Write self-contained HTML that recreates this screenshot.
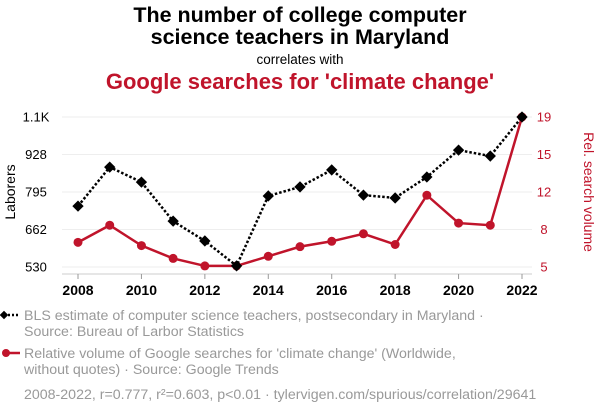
<!DOCTYPE html>
<html><head><meta charset="utf-8"><style>
body{margin:0;background:#fff;font-family:"Liberation Sans",sans-serif}
</style></head><body>
<svg width="600" height="414" xmlns="http://www.w3.org/2000/svg" font-family="Liberation Sans, sans-serif">
<text x="300" y="22" text-anchor="middle" font-size="21.5" font-weight="bold" fill="#000">The number of college computer</text>
<text x="300" y="44" text-anchor="middle" font-size="21.5" font-weight="bold" fill="#000">science teachers in Maryland</text>
<text x="300" y="64" text-anchor="middle" font-size="13.5" fill="#000">correlates with</text>
<text x="300" y="89" text-anchor="middle" font-size="22" font-weight="bold" fill="#c0142b">Google searches for 'climate change'</text>
<g id="grid"></g>
<g id="axes"></g>
<g id="marks"></g>
<text transform="translate(15,192) rotate(-90)" text-anchor="middle" font-size="14" fill="#000">Laborers</text>
<text transform="translate(584,192) rotate(90)" text-anchor="middle" font-size="14" fill="#c0142b">Rel. search volume</text>
<g>
<line x1="4" y1="315" x2="20" y2="315" stroke="#000" stroke-width="2.5" stroke-dasharray="2,2"/>
<rect x="1" y="312" width="6" height="6" transform="rotate(45 4 315)" fill="#000"/>
<text x="24" y="320" font-size="14.2" fill="#999">BLS estimate of computer science teachers, postsecondary in Maryland ·</text>
<text x="24" y="336" font-size="14.2" fill="#999">Source: Bureau of Larbor Statistics</text>
</g>
<g>
<line x1="4" y1="353" x2="20" y2="353" stroke="#c0142b" stroke-width="2.5"/>
<circle cx="6" cy="353" r="4" fill="#c0142b"/>
<text x="24" y="358" font-size="14.2" fill="#999">Relative volume of Google searches for 'climate change' (Worldwide,</text>
<text x="24" y="374" font-size="14.2" fill="#999">without quotes) · Source: Google Trends</text>
</g>
<text x="24" y="399" font-size="14.2" fill="#999">2008-2022, r=0.777, r²=0.603, p&lt;0.01 · tylervigen.com/spurious/correlation/29641</text>
</svg>
<script>
const years=[2008,2009,2010,2011,2012,2013,2014,2015,2016,2017,2018,2019,2020,2021,2022];
const laborers=[745,883,830,692,622,534,781,813,873,784,774,848,943,922,1060];
const searches=[7.3,8.9,7.0,5.8,5.1,5.1,6.0,6.9,7.4,8.1,7.1,11.7,9.1,8.9,19];
const leftTicks=[530,662.5,795,927.5,1060];
const leftLabels=["530","662","795","928","1.1K"];
const rightTicks=[5,8.5,12,15.5,19];
const rightLabels=["5","8","12","15","19"];
const xTicks=[2008,2010,2012,2014,2016,2018,2020,2022];
const NS="http://www.w3.org/2000/svg";
const x=v=>78+(v-2008)/14*444;
const yL=v=>267-(v-530)/530*150;
const yR=v=>267-(v-5)/14*150;
function mk(tag,attrs,parent,text){const e=document.createElementNS(NS,tag);for(const k in attrs)e.setAttribute(k,attrs[k]);if(text!==undefined)e.textContent=text;document.getElementById(parent).appendChild(e);return e;}
leftTicks.forEach((t,i)=>{
 const g=mk('line',{x1:62,x2:532,y1:yL(t),y2:yL(t),stroke:'#eee','stroke-width':1},'grid');
 
 
 const a=mk('text',{x:36,y:yL(t)+4.5,'text-anchor':'middle','font-size':13,fill:'#000'},'axes',leftLabels[i]);
 
 
 const b=mk('text',{x:544,y:yR(rightTicks[i])+4.5,'text-anchor':'middle','font-size':13,fill:'#c0142b'},'axes',rightLabels[i]);
 
 
});
const ax=mk('line',{x1:62,x2:532,y1:274,y2:274,stroke:'#ccc'},'axes');


xTicks.forEach(t=>{
 mk('line',{x1:x(t),x2:x(t),y1:274,y2:279,stroke:'#999'},'axes');
 const l=mk('text',{x:x(t),y:295,'text-anchor':'middle','font-size':14,'font-weight':'bold',fill:'#000'},'axes',String(t));
 
 
});
const rp=mk('polyline',{points:years.map((y,i)=>x(y)+','+yR(searches[i])).join(' '),fill:'none',stroke:'#c0142b','stroke-width':2.5},'marks');


searches.forEach((v,i)=>{
 const c=mk('circle',{cx:x(years[i]),cy:yR(v),r:4.5,fill:'#c0142b'},'marks');
 
 
});
const bp=mk('polyline',{points:years.map((y,i)=>x(y)+','+yL(laborers[i])).join(' '),fill:'none',stroke:'#000','stroke-width':2.5,'stroke-dasharray':'2.5,2'},'marks');


laborers.forEach((v,i)=>{
 const cx=x(years[i]),cy=yL(v);
 const d=mk('rect',{x:cx-4,y:cy-4,width:8,height:8,transform:`rotate(45 ${cx} ${cy})`,fill:'#000'},'marks');
 
 
});
</script>
</body></html>
